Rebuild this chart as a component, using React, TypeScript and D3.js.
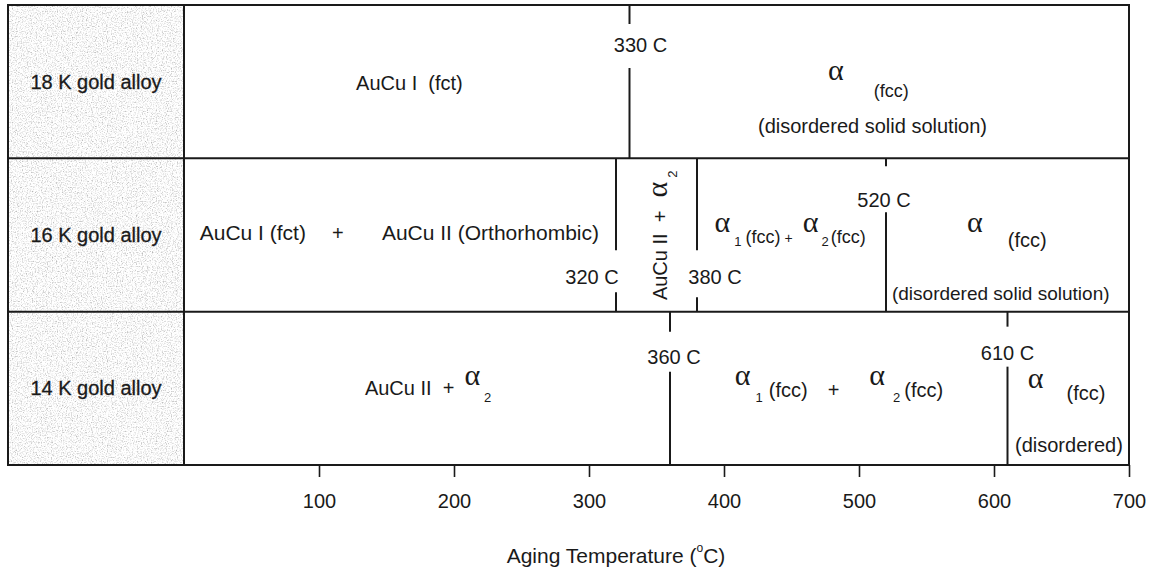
import React, { useRef, useEffect } from 'react';
import { select, scaleLinear, scaleBand, axisBottom } from 'd3';

// alloys (rows) and axis
const alloys = ['18 K gold alloy', '16 K gold alloy', '14 K gold alloy'];
const xTicks = [100, 200, 300, 400, 500, 600, 700];
const tempDomain = [0, 700];

// phase transition temperatures (°C) for each alloy
const transitions18 = [330];
const transitions16 = [320, 380, 520];
const transitions14 = [360, 610];
const transitionRows = [transitions18, transitions16, transitions14];

const ink = '#1a1a1a';
const sans = '"Liberation Sans", Arial, sans-serif';
const serif = '"Liberation Serif", "Times New Roman", serif';

// where each transition label sits (px, relative to the line / row top)
const transitionLayout = {
  330: { dx: 11, dy: 47, gap: [19, 63] },
  320: { dx: -24, dy: 126, gap: [92, 134] },
  380: { dx: 18, dy: 126, gap: [92, 139] },
  520: { dx: -2, dy: 49, gap: [8, 54] },
  360: { dx: 4, dy: 52, gap: [20, 60] },
  610: { dx: 0, dy: 48, gap: [15, 55] },
};

type Part = { s: string; a?: boolean; size?: number; dx?: number; dy?: number };
type Note = { r: number; t: number; y: number; anchor?: string; rotate?: number; size?: number; parts: Part[] };

// phase names, anchored by temperature (t) and offset from row top (y)
const notes: Note[] = [
  { r: 0, t: 167, y: 85, anchor: 'middle', parts: [{ s: 'AuCu I  (fct)' }] },
  { r: 0, t: 477, y: 75, parts: [{ s: 'α', a: true }, { s: '(fcc)', size: 18, dx: 30, dy: 17 }] },
  { r: 0, t: 510, y: 128, anchor: 'middle', parts: [{ s: '(disordered solid solution)' }] },

  { r: 1, t: 51, y: 82, anchor: 'middle', size: 21, parts: [{ s: 'AuCu I (fct)' }] },
  { r: 1, t: 114, y: 82, anchor: 'middle', parts: [{ s: '+' }] },
  { r: 1, t: 227, y: 82, anchor: 'middle', size: 21, parts: [{ s: 'AuCu II (Orthorhombic)' }] },
  {
    r: 1, t: 357.8, y: 77, anchor: 'middle', rotate: -90,
    parts: [{ s: 'AuCu II  +  ' }, { s: 'α', a: true, dx: 2 }, { s: '2', size: 13, dx: 4, dy: 10 }],
  },
  {
    r: 1, t: 393, y: 74,
    parts: [
      { s: 'α', a: true },
      { s: '1', size: 13, dx: 4, dy: 14 },
      { s: '(fcc)', size: 18, dx: 4, dy: -3 },
      { s: '+', size: 14, dx: 4 },
      { s: 'α', a: true, dx: 10, dy: -11 },
      { s: '2', size: 13, dx: 3, dy: 14 },
      { s: '(fcc)', size: 18, dx: 2, dy: -3 },
    ],
  },
  { r: 1, t: 580, y: 74, parts: [{ s: 'α', a: true }, { s: '(fcc)', dx: 25, dy: 15 }] },
  { r: 1, t: 605, y: 142, anchor: 'middle', parts: [{ s: '(disordered solid solution)', size: 19 }] },

  {
    r: 2, t: 134, y: 83,
    parts: [{ s: 'AuCu II  +' }, { s: 'α', a: true, dx: 10, dy: -10 }, { s: '2', size: 13, dx: 4, dy: 17 }],
  },
  {
    r: 2, t: 408, y: 73,
    parts: [
      { s: 'α', a: true },
      { s: '1', size: 13, dx: 5, dy: 17 },
      { s: '(fcc)', dx: 6, dy: -5 },
      { s: '+', dx: 20 },
      { s: 'α', a: true, dx: 30, dy: -12 },
      { s: '2', size: 13, dx: 8, dy: 17 },
      { s: '(fcc)', dx: 4, dy: -5 },
    ],
  },
  { r: 2, t: 625, y: 76, parts: [{ s: 'α', a: true }, { s: '(fcc)', dx: 23, dy: 12 }] },
  { r: 2, t: 655.5, y: 140, anchor: 'middle', parts: [{ s: '(disordered)' }] },
];

export default function App() {
  const axisRef = useRef<SVGGElement>(null);
  const width = 1161;
  const height = 572;
  const left = 8;
  const top = 5;
  const bottom = 465;

  const x = scaleLinear().domain(tempDomain).range([184, 1129]);
  const y = scaleBand().domain(alloys).range([top, bottom]);
  const bw = y.bandwidth();

  useEffect(() => {
    const g = select(axisRef.current);
    g.call(axisBottom(x).tickValues(xTicks).tickSize(12).tickSizeOuter(0).tickPadding(17));
    g.select('.domain').remove();
    g.selectAll('.tick line').attr('stroke', ink).attr('stroke-width', 1.6);
    g.selectAll('.tick text')
      .attr('font-family', sans)
      .attr('font-size', 20)
      .attr('fill', ink);
  }, []);

  const renderParts = (parts: Part[]) =>
    parts.map((p, i) => (
      <tspan
        key={i}
        dx={p.dx}
        dy={p.dy}
        fontFamily={p.a ? serif : undefined}
        fontSize={p.a ? 30 : p.size}
      >
        {p.s}
      </tspan>
    ));

  return (
    <svg
      width={width}
      height={height}
      style={{ position: 'absolute', left: 0, top: 0, background: '#fff' }}
    >
      <defs>
        <filter id="speckle" x="0" y="0" width="100%" height="100%">
          <feTurbulence type="fractalNoise" baseFrequency="0.8" numOctaves="2" seed="4" result="n" />
          <feColorMatrix
            in="n"
            type="matrix"
            values="1.3 0 0 0 0.3  1.3 0 0 0 0.3  1.3 0 0 0 0.3  0 0 0 0 1"
          />
          <feComposite operator="in" in2="SourceGraphic" />
        </filter>
      </defs>

      {/* label column */}
      <rect
        x={left}
        y={top}
        width={x(0) - left}
        height={bottom - top}
        fill="#e8e8e8"
        filter="url(#speckle)"
      />

      {/* frame and row dividers */}
      <g stroke={ink} strokeWidth={2} fill="none">
        <rect x={left} y={top} width={x(700) - left} height={bottom - top} />
        <line x1={x(0)} x2={x(0)} y1={top} y2={bottom} />
        {alloys.slice(1).map((a) => (
          <line key={a} x1={left} x2={x(700)} y1={y(a)} y2={y(a)} />
        ))}
      </g>

      {/* row labels */}
      {alloys.map((a) => (
        <text
          key={a}
          x={(left + x(0)) / 2}
          y={(y(a) as number) + bw / 2 + 7}
          textAnchor="middle"
          fontFamily={sans}
          fontSize={20}
          fill={ink}
          stroke={ink}
          strokeWidth={0.3}
        >
          {a}
        </text>
      ))}

      {/* transitions */}
      {transitionRows.map((ts, ri) => {
        const y0 = y(alloys[ri]) as number;
        return ts.map((t) => {
          const L = transitionLayout[t];
          return (
            <g key={`${ri}-${t}`}>
              <line x1={x(t)} x2={x(t)} y1={y0} y2={y0 + L.gap[0]} stroke={ink} strokeWidth={2} />
              <line x1={x(t)} x2={x(t)} y1={y0 + L.gap[1]} y2={y0 + bw} stroke={ink} strokeWidth={2} />
              <text
                x={x(t) + L.dx}
                y={y0 + L.dy}
                textAnchor="middle"
                fontFamily={sans}
                fontSize={20}
                fill={ink}
              >
                {`${t} C`}
              </text>
            </g>
          );
        });
      })}

      {/* phase names */}
      {notes.map((n, i) => {
        const px = x(n.t);
        const py = (y(alloys[n.r]) as number) + n.y;
        const common = {
          textAnchor: n.anchor || 'start',
          fontFamily: sans,
          fontSize: n.size || 20,
          fill: ink,
          style: { whiteSpace: 'pre' as const },
        };
        if (n.rotate) {
          return (
            <text key={i} {...common} transform={`translate(${px},${py}) rotate(${n.rotate})`}>
              {renderParts(n.parts)}
            </text>
          );
        }
        return (
          <text key={i} x={px} y={py} {...common}>
            {renderParts(n.parts)}
          </text>
        );
      })}

      {/* axis */}
      <g ref={axisRef} transform={`translate(0,${bottom})`} />
      <text x={616} y={563} textAnchor="middle" fontFamily={sans} fontSize={21} fill={ink}>
        Aging Temperature (
        <tspan fontSize={12} dy={-11}>o</tspan>
        <tspan dy={11}>C)</tspan>
      </text>
    </svg>
  );
}
